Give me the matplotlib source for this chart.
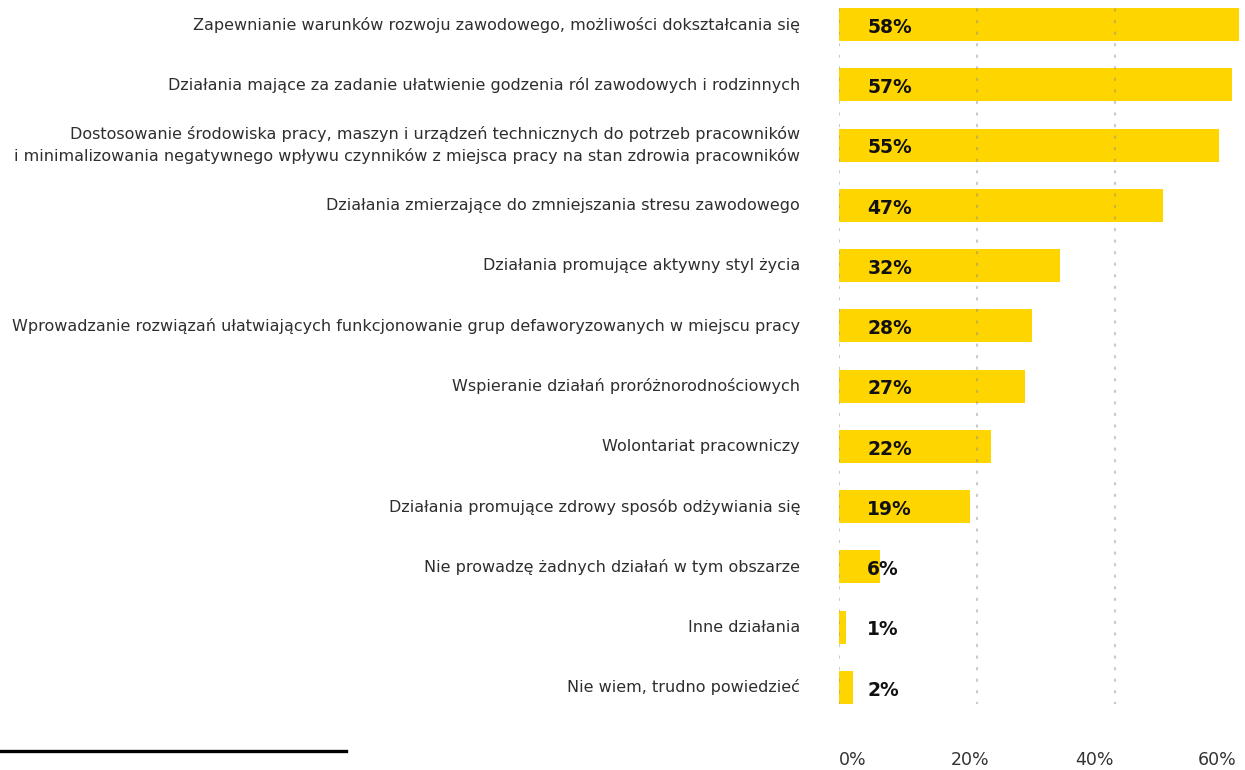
import matplotlib
matplotlib.use("Agg")
import matplotlib.pyplot as plt
from matplotlib.lines import Line2D
from matplotlib.transforms import ScaledTranslation

categories = [
    "Zapewnianie warunków rozwoju zawodowego, możliwości dokształcania się",
    "Działania mające za zadanie ułatwienie godzenia ról zawodowych i rodzinnych",
    "Dostosowanie środowiska pracy, maszyn i urządzeń technicznych do potrzeb pracowników\n"
    "i minimalizowania negatywnego wpływu czynników z miejsca pracy na stan zdrowia pracowników",
    "Działania zmierzające do zmniejszania stresu zawodowego",
    "Działania promujące aktywny styl życia",
    "Wprowadzanie rozwiązań ułatwiających funkcjonowanie grup defaworyzowanych w miejscu pracy",
    "Wspieranie działań proróżnorodnościowych",
    "Wolontariat pracowniczy",
    "Działania promujące zdrowy sposób odżywiania się",
    "Nie prowadzę żadnych działań w tym obszarze",
    "Inne działania",
    "Nie wiem, trudno powiedzieć",
]
values = [58, 57, 55, 47, 32, 28, 27, 22, 19, 6, 1, 2]
axis_labels = ["0%", "20%", "40%", "60%"]

BAR_COLOR = "#FFD500"
TEXT_COLOR = "#2e2e2e"

plt.rcParams["font.family"] = ["DejaVu Sans"]

fig = plt.figure(figsize=(12.45, 7.7), dpi=100)
W, H = 1245, 770
ax = fig.add_axes([839 / W, 1 - 704 / H, (W - 839) / W, (704 - 8) / H])

ypos = list(range(len(categories)))
ax.barh(ypos, values, height=0.55, color=BAR_COLOR, zorder=1)
ax.set_xlim(0, (W - 839) / 6.9)
ax.set_ylim(len(categories) - 1 + 0.275, -0.275)

# dotted guides at 0, 20 and 40 percent, drawn over the bars
for gx in (0, 20, 40):
    ax.axvline(gx, color="#8a8a8a", alpha=0.45, linewidth=1.6,
               linestyle=(0, (0.6, 4.6)), dash_capstyle="round", zorder=3)

for y, v in zip(ypos, values):
    ax.annotate(f"{v}%", (4.1, y), xytext=(0, -2), textcoords="offset points",
                ha="left", va="center", fontsize=13.5, fontweight="bold",
                color="#111111", zorder=4)

ax.set_yticks(ypos)
ax.set_yticklabels(categories, fontsize=11.5, color=TEXT_COLOR, linespacing=1.4)
nudge = ScaledTranslation(0, -0.02, fig.dpi_scale_trans)
for lbl in ax.get_yticklabels():
    lbl.set_va("center")
    lbl.set_transform(lbl.get_transform() + nudge)
ax.tick_params(axis="y", length=0, pad=28)
ax.set_xticks([])
for s in ax.spines.values():
    s.set_visible(False)

# bottom scale labels
label_x = [839, 970, 1094, 1217]
label_ha = ["left", "center", "center", "center"]
for lx, ha, txt in zip(label_x, label_ha, axis_labels):
    fig.text(lx / W, 1 - 760 / H, txt, ha=ha, va="center", fontsize=12.5,
             color="#333333")

# short rule at the bottom left
fig.add_artist(Line2D([0, 346 / W], [1 - 751 / H, 1 - 751 / H],
                      color="black", linewidth=2.4))

fig.savefig("out.png", dpi=100)
